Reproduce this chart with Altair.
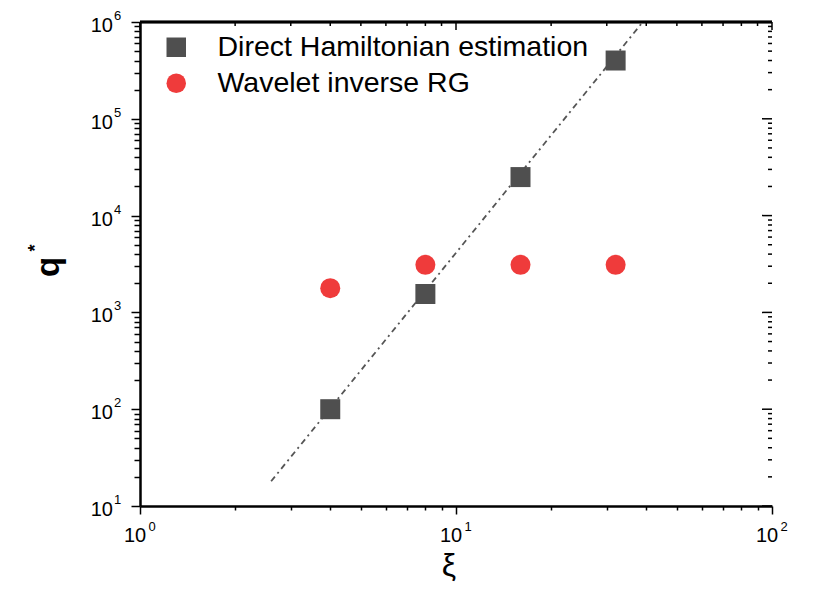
import altair as alt
import pandas as pd

# ---- data ----
xi = [4, 8, 16, 32]
direct_q = [100, 1550, 25000, 400000]
wavelet_q = [1780, 3100, 3100, 3100]
series_names = ["Direct Hamiltonian estimation", "Wavelet inverse RG"]
series_colors = ["#4f4f4f", "#ef3b3b"]
series_shapes = ["square", "circle"]

fit_xi = [2.6, 39]
fit_q = [18, 1.0e6]

x_decades = [1, 10, 100]
x_exponents = ["0", "1", "2"]
y_decades = [10, 100, 1000, 10000, 100000, 1000000]
y_exponents = ["1", "2", "3", "4", "5", "6"]
minor_mult = [2, 3, 4, 5, 6, 7, 8, 9]

x_title = ["ξ"]
y_title = ["q"]
y_title_sup = ["*"]

FONT = "Liberation Sans"
W, H = 632, 484

x_minor = [d * m for d in x_decades[:-1] for m in minor_mult]
y_minor = [d * m for d in y_decades[:-1] for m in minor_mult]
x_all = sorted(x_decades + x_minor)
y_all = sorted(y_decades + y_minor)

pts = pd.DataFrame({
    "xi": xi + xi,
    "q": direct_q + wavelet_q,
    "series": [series_names[0]] * len(xi) + [series_names[1]] * len(xi),
})
fit = pd.DataFrame({"xi": fit_xi, "q": fit_q})
xlab = pd.DataFrame({"v": x_decades, "e": x_exponents, "b": ["10"] * len(x_decades)})
ylab = pd.DataFrame({"v": y_decades, "e": y_exponents, "b": ["10"] * len(y_decades)})
xmaj = pd.DataFrame({"v": x_decades})
xmin = pd.DataFrame({"v": x_minor})
ymaj = pd.DataFrame({"v": y_decades})
ymin = pd.DataFrame({"v": y_minor})

xscale = alt.Scale(type="log", domain=[1, 100], nice=False)
yscale = alt.Scale(type="log", domain=[10, 1e6], nice=False)

major_test = "abs(log(datum.value)/LN10 - round(log(datum.value)/LN10)) < 0.01"

xaxis = alt.Axis(values=x_all, labels=False, title=None, grid=False,
                 domainColor="black", domainWidth=2.5, tickColor="black", tickWidth=1.5,
                 tickSize={"condition": {"test": major_test, "value": 8}, "value": 4})
yaxis = alt.Axis(values=y_all, labels=False, title=None, grid=False,
                 domainColor="black", domainWidth=2.5, tickColor="black", tickWidth=1.5,
                 tickSize={"condition": {"test": major_test, "value": 9}, "value": 6})

X = alt.X("xi:Q", scale=xscale, axis=xaxis)
Y = alt.Y("q:Q", scale=yscale, axis=yaxis)

legend = alt.Legend(title=None, orient="none", legendX=22, legendY=11,
                    labelFontSize=28.5, labelFont=FONT, labelColor="black",
                    symbolSize=380, symbolStrokeWidth=0, symbolOpacity=1,
                    labelOffset=27, rowPadding=7, labelLimit=600)

line = alt.Chart(fit).mark_line(color="#555555", strokeWidth=1.8,
                                strokeDash=[6, 4, 2, 4]).encode(x=X, y=Y)

points = alt.Chart(pts).mark_point(filled=True, opacity=1, size=400).encode(
    x=X, y=Y,
    color=alt.Color("series:N", scale=alt.Scale(domain=series_names, range=series_colors), legend=legend),
    shape=alt.Shape("series:N", scale=alt.Scale(domain=series_names, range=series_shapes), legend=legend),
)

# top frame line and inward ticks
top_line = alt.Chart(xmaj).mark_rule(color="black", strokeWidth=2.5).encode(
    x=alt.value(0), x2=alt.value(W), y=alt.value(0))
top_maj = alt.Chart(xmaj).mark_rule(color="black", strokeWidth=1.5).encode(
    x=alt.X("v:Q", scale=xscale), y=alt.value(0), y2=alt.value(8))
top_min = alt.Chart(xmin).mark_rule(color="black", strokeWidth=1.5).encode(
    x=alt.X("v:Q", scale=xscale), y=alt.value(0), y2=alt.value(4))
# right side: ticks only
right_maj = alt.Chart(ymaj).mark_rule(color="black", strokeWidth=1.5).encode(
    y=alt.Y("v:Q", scale=yscale), x=alt.value(W - 10), x2=alt.value(W))
right_min = alt.Chart(ymin).mark_rule(color="black", strokeWidth=1.5).encode(
    y=alt.Y("v:Q", scale=yscale), x=alt.value(W - 4), x2=alt.value(W))

# tick labels 10^n
xl_base = alt.Chart(xlab).mark_text(font=FONT, fontSize=20, align="center", baseline="middle",
                                    dx=-5, color="black").encode(
    x=alt.X("v:Q", scale=xscale), y=alt.value(H + 30), text="b:N")
xl_exp = alt.Chart(xlab).mark_text(font=FONT, fontSize=13, align="center", baseline="middle",
                                   dx=12, color="black").encode(
    x=alt.X("v:Q", scale=xscale), y=alt.value(H + 21), text="e:N")
yl_base = alt.Chart(ylab).mark_text(font=FONT, fontSize=20, align="right", baseline="middle",
                                    dy=4, color="black").encode(
    y=alt.Y("v:Q", scale=yscale), x=alt.value(-27), text="b:N")
yl_exp = alt.Chart(ylab).mark_text(font=FONT, fontSize=13, align="left", baseline="middle",
                                   dy=-6, color="black").encode(
    y=alt.Y("v:Q", scale=yscale), x=alt.value(-26), text="e:N")

# axis titles
xt = alt.Chart(pd.DataFrame({"t": x_title})).mark_text(font=FONT, fontSize=32, align="center",
                                                       baseline="middle", color="black").encode(
    x=alt.value(309), y=alt.value(H + 60), text="t:N")
yt = alt.Chart(pd.DataFrame({"t": y_title})).mark_text(font=FONT, fontSize=33, fontWeight="bold",
                                                       align="center", baseline="middle",
                                                       angle=270, color="black").encode(
    x=alt.value(-91), y=alt.value(245), text="t:N")
yts = alt.Chart(pd.DataFrame({"t": y_title_sup})).mark_text(font=FONT, fontSize=18, fontWeight="bold",
                                                            align="center", baseline="middle",
                                                            angle=270, color="black").encode(
    x=alt.value(-104), y=alt.value(226), text="t:N")

chart = alt.layer(
    line, points, top_line, top_maj, top_min, right_maj, right_min,
    xl_base, xl_exp, yl_base, yl_exp, xt, yt, yts,
).properties(
    width=W, height=H,
    padding={"left": 140, "top": 22, "right": 43, "bottom": 87},
    autosize=alt.AutoSizeParams(type="none"),
    background="white",
).configure_view(stroke=None)

chart.save("out.html", embed_options={"renderer": "svg", "actions": False})
